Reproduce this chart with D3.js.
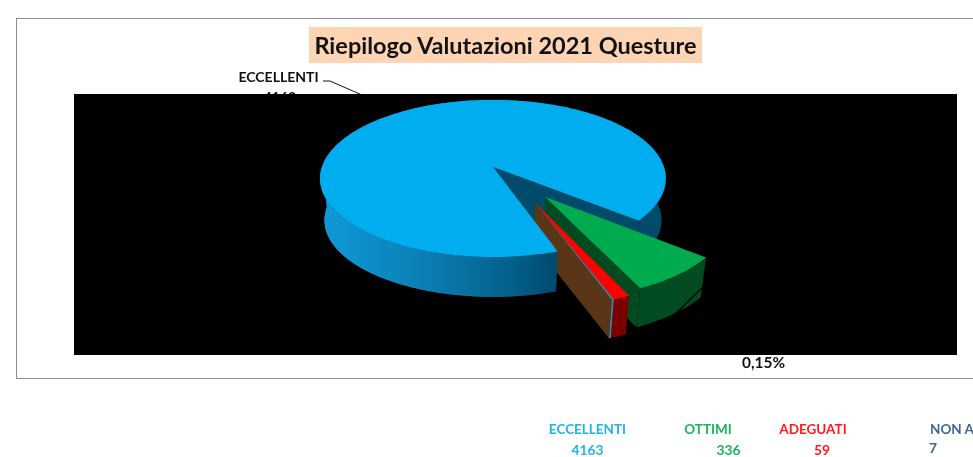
<!DOCTYPE html>
<html>
<head>
<meta charset="utf-8">
<style>
  html, body { margin: 0; padding: 0; background: #fff; overflow: hidden; }
  svg { display: block; font-family: Lato, "Open Sans", sans-serif; font-weight: 700; filter: blur(0.35px); }
</style>
<script src="https://cdn.jsdelivr.net/npm/d3@7"></script>
</head>
<body>
<svg id="chart" width="973" height="457"></svg>
<script>
const title = "Riepilogo Valutazioni 2021 Questure";
const categories = ["ECCELLENTI", "OTTIMI", "ADEGUATI", "NON ADEGUATI"];
const values = [4163, 336, 59, 7];
const pctLabel = "0,15%";

(function () {
  'use strict';

  const topColors = ["#00aeef", "#00ab4e", "#ff0000", "#4a7ea8"];
  const legendColors = ["#1fb4ec", "#1cb35a", "#ff1a1a", "#3f6797"];
  const legendX = [587.5, 708, 813, 930];
  const valueX = [587.5, 728.5, 822, 929];
  const valueY = [455, 455, 455, 453];

  const svg = d3.select("#chart");
  const defs = svg.append("defs");

  // wall shading of the big slice
  const grad = defs.append("linearGradient").attr("id", "wall")
    .attr("gradientUnits", "userSpaceOnUse")
    .attr("x1", 320).attr("x2", 665).attr("y1", 0).attr("y2", 0);
  [[0, "#0f9ad8"], [0.3, "#0b7fb4"], [0.55, "#03618c"], [0.68, "#024a6e"], [1, "#004b6b"]]
    .forEach(s => grad.append("stop").attr("offset", s[0]).attr("stop-color", s[1]));

  // frame
  svg.append("rect").attr("x", 16.5).attr("y", 18.5).attr("width", 1000).attr("height", 360)
    .attr("fill", "#fff").attr("stroke", "#8c8c8c");

  // title
  svg.append("rect").attr("x", 309).attr("y", 27).attr("width", 393).attr("height", 36).attr("fill", "#fdd5b4");
  svg.append("text").attr("x", 505.5).attr("y", 54).attr("text-anchor", "middle")
    .attr("font-size", 23.5).attr("fill", "#111").text(title);

  // label of the big slice, its value sits behind the plot area as in the original
  svg.append("text").attr("x", 278.5).attr("y", 82).attr("text-anchor", "middle")
    .attr("font-size", 14).attr("fill", "#111").text(categories[0]);
  svg.append("text").attr("x", 280).attr("y", 102).attr("text-anchor", "middle")
    .attr("font-size", 14).attr("fill", "#111").text(values[0]);
  svg.append("polyline").attr("points", "323,81 330,81 362,95")
    .attr("fill", "none").attr("stroke", "#111");

  // plot area
  svg.append("rect").attr("x", 74).attr("y", 94).attr("width", 883).attr("height", 261).attr("fill", "#000");

  // perspective projection of the disc: (u, v) on the unit circle, z = 0 top, 1 bottom
  const deg = Math.PI / 180;
  const persp = 0.146;
  const sx = d3.scaleLinear().domain([0, 1]).range([493, 664]);
  const sy = d3.scaleLinear().domain([0, 1]).range([167, 243.9]);
  const thick = 42, shrink = 0.975;

  function project(u, v, z) {
    const w = 1 - persp * v;
    const s = 1 - (1 - shrink) * z;
    const cx = sx(0), cy = sy(0);
    return [cx + (sx(u / w) - cx) * s, cy + (sy(v / w) - cy) * s + thick * z];
  }

  const pie = d3.pie().sort(null).startAngle(161 * deg).endAngle((161 + 360) * deg);
  const arcs = pie(values);

  // exploded offset of each slice on the disc
  const explodeDir = [0, 142, 152, 152];
  const explodeLen = [0, 0.47, 0.49, 0.49];
  const offset = i => [
    explodeLen[i] * Math.sin(explodeDir[i] * deg),
    -explodeLen[i] * Math.cos(explodeDir[i] * deg)
  ];

  const line = d3.line();
  const rimPoint = (i, a, z) => {
    const o = offset(i);
    return project(o[0] + Math.sin(a), o[1] - Math.cos(a), z);
  };
  const apex = (i, z) => project(offset(i)[0], offset(i)[1], z);
  const rimRange = (i, a0, a1, z) => {
    const n = Math.max(2, Math.ceil((a1 - a0) / deg));
    return d3.range(n + 1).map(k => rimPoint(i, a0 + (a1 - a0) * k / n, z));
  };
  const rim = (i, z) => rimRange(i, arcs[i].startAngle, arcs[i].endAngle, z);

  function poly(pts, fill) {
    svg.append("path").attr("d", line(pts) + "Z").attr("fill", fill);
  }
  const topFace = i => [apex(i, 0)].concat(rim(i, 0));
  const outerWall = i => rim(i, 0).concat(rim(i, 1).reverse());
  const cutWall = (i, a) => [apex(i, 0), rimPoint(i, a, 0), rimPoint(i, a, 1), apex(i, 1)];

  // big slice walls
  poly(outerWall(0), "url(#wall)");
  poly(cutWall(0, arcs[0].endAngle), "#004a6a");

  // OTTIMI
  poly(cutWall(1, arcs[1].endAngle), "#024a1f");
  poly(outerWall(1), "#024a1f");
  poly(topFace(1), topColors[1]);
  svg.append("polyline").attr("points", "672,317 703,287").attr("stroke", "#000").attr("stroke-width", 1.2);

  // ADEGUATI
  poly(outerWall(2), "#7a0000");
  poly(topFace(2), topColors[2]);

  // NON ADEGUATI, its side is the brown face
  poly(cutWall(3, arcs[3].endAngle), "#5a3518");
  poly(outerWall(3), "#4a7ea8");
  poly(topFace(3), topColors[3]);

  // front of the big slice goes over the brown face, then its top
  const a0 = arcs[0].startAngle;
  poly(rimRange(0, a0, a0 + 110 * deg, 0).concat(rimRange(0, a0, a0 + 110 * deg, 1).reverse()), "url(#wall)");
  poly(topFace(0), topColors[0]);

  // small label
  svg.append("text").attr("x", 763.5).attr("y", 368).attr("text-anchor", "middle")
    .attr("font-size", 15.4).attr("fill", "#111").text(pctLabel);

  // table under the chart
  categories.forEach((c, i) => {
    svg.append("text").attr("x", legendX[i]).attr("y", 434)
      .attr("text-anchor", i === 3 ? "start" : "middle")
      .attr("font-size", 13.5).attr("fill", legendColors[i]).text(c);
    svg.append("text").attr("x", valueX[i]).attr("y", valueY[i])
      .attr("text-anchor", i === 3 ? "start" : "middle")
      .attr("font-size", 13.8).attr("fill", legendColors[i]).text(values[i]);
  });

})();
</script>
</body>
</html>
